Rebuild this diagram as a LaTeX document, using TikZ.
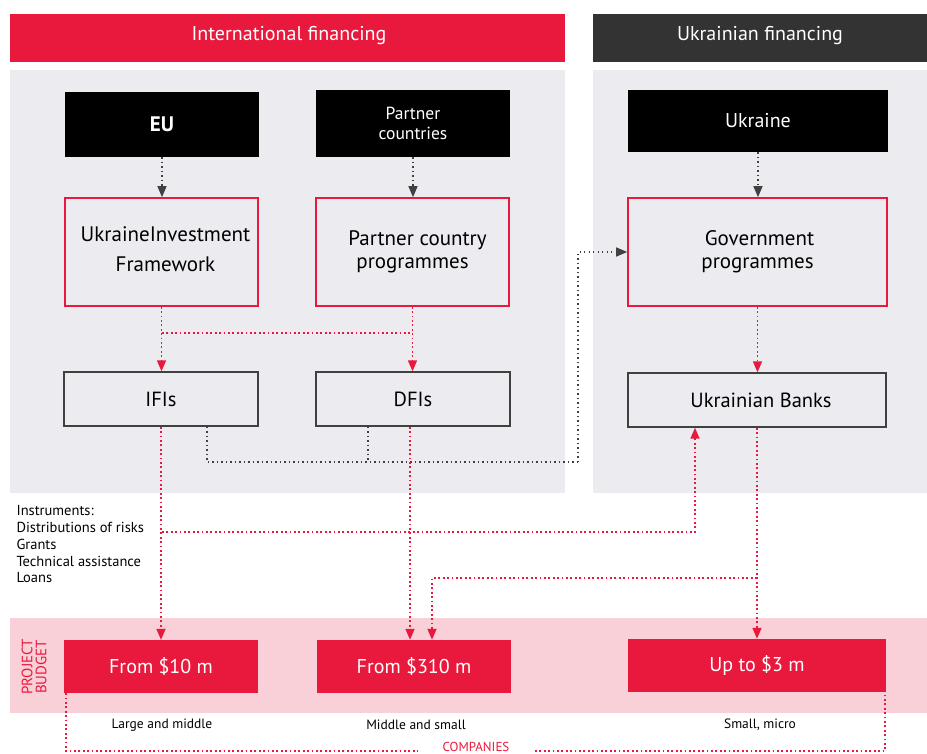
\documentclass[tikz,border=0pt]{standalone}
\usepackage{fontspec}
\setmainfont{PT Sans}
\usetikzlibrary{arrows.meta}
\definecolor{ifred}{HTML}{E8193C}
\definecolor{ifdark}{HTML}{333333}
\definecolor{ifgrey}{HTML}{ECEBF0}
\definecolor{ifpink}{HTML}{F9D0D8}
\definecolor{ifline}{HTML}{404040}
\begin{document}
\begin{tikzpicture}[x=1pt, y=-1pt,
		blackbox/.style={fill=black, text=white, minimum width=194pt, minimum height=65pt, font=\fontsize{17.5}{20}\selectfont, align=center},
		redbox/.style={draw=ifred, line width=1.6pt, fill=ifgrey, minimum width=193pt, minimum height=108pt, font=\fontsize{21}{23}\selectfont, align=center},
		greybox/.style={draw=ifline, line width=1.4pt, fill=ifgrey, minimum width=194pt, minimum height=54pt, font=\fontsize{20.5}{23}\selectfont},
		budget/.style={fill=ifred, text=white, minimum width=194pt, minimum height=53pt, font=\fontsize{20}{22}\selectfont},
		rd/.style={ifred, line width=1.6pt, dash pattern=on 1.8pt off 2.6pt},
		blk/.style={ifline, line width=1.3pt, dash pattern=on 1.3pt off 3.2pt},
		rdtip/.style={-{Triangle[length=11pt, width=9pt]}},
		label/.style={font=\fontsize{13.5}{15}\selectfont}]
		
		\useasboundingbox (0,0) rectangle (927,753);
		
		% headers and panels
		\fill[ifred] (10,14) rectangle (565,62);
		\fill[ifdark] (593,14) rectangle (927,62);
		\node[text=white, font=\fontsize{20}{22}\selectfont] (hint) at (289,36) {International financing};
		\node[text=white, font=\fontsize{20}{22}\selectfont] (hua) at (760,36) {Ukrainian financing};
		\fill[ifgrey] (10,70) rectangle (565,493);
		\fill[ifgrey] (593,70) rectangle (927,493);
		\fill[ifpink] (10,618) rectangle (927,713);
		
		% sources
		\node[blackbox, font=\fontsize{21}{23}\selectfont\bfseries] (eu) at (162,124.5) {EU};
		\node[blackbox, minimum height=67pt] (pc) at (413,123.5) {Partner\\countries};
		\node[blackbox, minimum width=260pt, minimum height=62pt, font=\fontsize{20}{22}\selectfont] (ua) at (758,121) {Ukraine};
		
		% programmes
		\node[redbox] (uif) at (161.5,252) {\hspace*{8pt}\begin{tabular}{@{}c@{}}UkraineInvestment\\[7pt]Framework\end{tabular}};
		\node[redbox] (pcp) at (412.5,252) {\hspace*{10pt}Partner country\\programmes};
		\node[redbox, minimum width=259pt] (gov) at (757.5,252) {\hspace*{4pt}Government\\programmes};
		
		% institutions
		\node[greybox] (ifi) at (161,399) {IFIs};
		\node[greybox] (dfi) at (413,399) {DFIs};
		\node[greybox, minimum width=258pt] (ub) at (757,400) {\hspace*{8pt}Ukrainian Banks};
		
		% project budget
		\node[text=ifred, rotate=90, align=center, font=\fontsize{15}{14}\selectfont] (pb) at (34,667) {PROJECT\\BUDGET};
		\node[budget] (b10) at (161,666.5) {From \$10 m};
		\node[budget] (b310) at (414,666.5) {From \$310 m};
		\node[budget, minimum width=258pt] (b3) at (757,665.5) {Up to \$3 m};
		
		\node[label] (lb10) at (162,725) {Large and middle};
		\node[label] (lb310) at (416,725) {Middle and small};
		\node[label] (lb3) at (760,725) {Small, micro};
		\node[text=ifred, anchor=base, font=\fontsize{13}{15}\selectfont] (comp) at (476,751) {COMPANIES};
		
		\node[anchor=north west, align=left, font=\fontsize{14.5}{16.8}\selectfont] (instr) at (13,502)
		{Instruments:\\Distributions of risks\\Grants\\Technical assistance\\Loans};
		
		\coordinate (jn) at (578,462);
		\coordinate (link) at (162,333);
		\coordinate (ins) at (162,532);
		\coordinate (split) at (757,578);
		\coordinate (cl) at (418,751);
		\coordinate (cr) at (535,751);
		
		% black dotted links
		\draw[blk, -{Triangle[length=11pt, width=9pt]}] (eu.south) -- (eu.south |- uif.north);
		\draw[blk, -{Triangle[length=11pt, width=9pt]}] (pc.south) -- (pc.south |- pcp.north);
		\draw[blk, -{Triangle[length=11pt, width=9pt]}] (ua.south) -- (ua.south |- gov.north);
		\draw[blk] ([xshift=46pt]ifi.south) |- (jn);
		\draw[blk] ([xshift=-45pt]dfi.south) -- ([xshift=-45pt]dfi.south |- jn);
		\draw[blk, -{Triangle[length=11pt, width=9pt]}] (jn) |- (gov.west);
		
		% red dotted links
		\draw[rd, rdtip] (uif.south) -- (uif.south |- ifi.north);
		\draw[rd, rdtip] (pcp.south) -- (pcp.south |- dfi.north);
		\draw[rd] (link) -- (link -| pcp.south);
		\draw[rd, rdtip] (gov.south) -- (gov.south |- ub.north);
		\draw[rd, rdtip] (ifi.south) -- (ifi.south |- b10.north);
		\draw[rd, rdtip] ([xshift=-3pt]dfi.south) -- ([xshift=-3pt]dfi.south |- b310.north);
		\draw[rd, rdtip] (ins) -| ([xshift=-62pt]ub.south);
		\draw[rd, rdtip] (ub.south) -- (ub.south |- b3.north);
		\draw[rd, rdtip] (split) -| ([xshift=18pt]b310.north);
		\draw[rd] ([xshift=2pt]b10.south west) |- (cl);
		\draw[rd] (cr) -| ([xshift=-1pt]b3.south east);
		\end{tikzpicture}
\end{document}
